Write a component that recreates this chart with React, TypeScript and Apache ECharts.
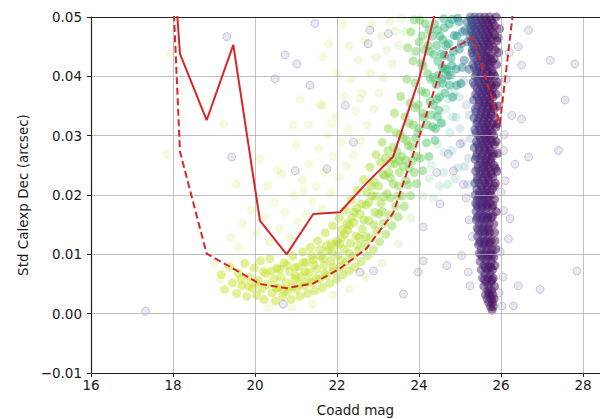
import React, { useEffect, useRef } from "react";
import * as echarts from "echarts";

// Binned trend curves: bin centres (Coadd mag) and their values (arcsec)
const magBins = [17.52, 18.17, 18.82, 19.47, 20.12, 20.77, 21.42, 22.07, 22.72, 23.37, 24.02, 24.67, 25.32, 25.97, 26.62];
const trendSolid = [0.107, 0.0438, 0.0326, 0.0453, 0.0157, 0.01, 0.0168, 0.0171, 0.022, 0.0265, 0.04, 0.059];
const trendDashed = [0.13, 0.0273, 0.0101, 0.0076, 0.005, 0.0043, 0.0051, 0.0076, 0.011, 0.017, 0.0302, 0.0441, 0.0465, 0.032, 0.07];

// Axis ticks
const magTicks = { min: 16, max: 28.9, step: 2 };
const stdTicks = { min: -0.01, max: 0.05, step: 0.01 };

// Dense stellar locus: [coadd mag, std dec]
const bandCore: [number, number][] = [
  [19.18, 0.0066], [19.26, 0.0041], [19.38, 0.0079], [19.45, 0.0052], [19.55, 0.0034], [19.6, 0.0068], [19.68, 0.0047], [19.75, 0.0085],
  [19.8, 0.0029], [19.87, 0.0061], [19.94, 0.0043], [19.98, 0.0077],
  [20.04, 0.0031], [20.08, 0.0056], [20.13, 0.0089], [20.17, 0.0042], [20.22, 0.0024], [20.27, 0.0068], [20.31, 0.0049], [20.36, 0.0093],
  [20.41, 0.0035], [20.46, 0.0058], [20.5, 0.0021], [20.54, 0.0077], [20.58, 0.0044], [20.63, 0.0062], [20.67, 0.0029], [20.71, 0.0086],
  [20.76, 0.0052], [20.8, 0.0037], [20.84, 0.0071], [20.88, 0.0024], [20.92, 0.0097], [20.96, 0.0058],
  [21.01, 0.0041], [21.05, 0.0079], [21.09, 0.0029], [21.12, 0.0063], [21.16, 0.0104], [21.2, 0.0047], [21.24, 0.0086], [21.28, 0.0034],
  [21.31, 0.0069], [21.35, 0.0112], [21.39, 0.0052], [21.42, 0.0091], [21.46, 0.0039], [21.5, 0.0075], [21.53, 0.0123], [21.57, 0.0058],
  [21.6, 0.0097], [21.64, 0.0044], [21.68, 0.0081], [21.71, 0.0136], [21.75, 0.0064], [21.78, 0.0106], [21.82, 0.0051], [21.85, 0.0089],
  [21.89, 0.0148], [21.92, 0.0072], [21.96, 0.0117], [21.99, 0.0058],
  [22.02, 0.0098], [22.05, 0.0161], [22.08, 0.0079], [22.11, 0.0128], [22.14, 0.0066], [22.17, 0.0109], [22.2, 0.0175], [22.23, 0.0087],
  [22.26, 0.0141], [22.29, 0.0072], [22.32, 0.0119], [22.35, 0.0192], [22.38, 0.0096], [22.41, 0.0154], [22.44, 0.0079], [22.47, 0.0131],
  [22.5, 0.0208], [22.53, 0.0106], [22.56, 0.0168], [22.59, 0.0088], [22.62, 0.0143], [22.65, 0.0226], [22.68, 0.0117], [22.71, 0.0183],
  [22.74, 0.0098], [22.77, 0.0157], [22.8, 0.0247], [22.83, 0.0128], [22.86, 0.0199], [22.89, 0.0108], [22.92, 0.0171], [22.95, 0.0268],
  [22.98, 0.0139],
  [23.01, 0.0215], [23.04, 0.0121], [23.07, 0.0186], [23.1, 0.0289], [23.13, 0.0152], [23.16, 0.0233], [23.19, 0.0134], [23.22, 0.0202],
  [23.25, 0.0312], [23.28, 0.0166], [23.31, 0.0252], [23.34, 0.0148], [23.37, 0.0219], [23.4, 0.0338], [23.43, 0.0181], [23.46, 0.0273],
  [23.49, 0.0163], [23.52, 0.0238], [23.55, 0.0366], [23.58, 0.0198], [23.61, 0.0296], [23.64, 0.0181], [23.67, 0.0259], [23.7, 0.0395],
  [23.73, 0.0217], [23.76, 0.0321], [23.79, 0.0199], [23.82, 0.0281], [23.85, 0.0426], [23.88, 0.0238], [23.91, 0.0347], [23.94, 0.0219],
  [23.97, 0.0305],
  [24.0, 0.0458], [24.03, 0.0262], [24.06, 0.0375], [24.09, 0.0241], [24.12, 0.0331], [24.15, 0.0489], [24.18, 0.0288], [24.21, 0.0405],
  [24.24, 0.0265], [24.27, 0.0358], [24.3, 0.0502], [24.33, 0.0315], [24.36, 0.0437], [24.39, 0.0292], [24.42, 0.0386], [24.45, 0.0478],
  [24.48, 0.0343], [24.51, 0.0468], [24.54, 0.0321], [24.57, 0.0415], [24.6, 0.0497], [24.63, 0.0372], [24.66, 0.0452],
  [24.7, 0.0401], [24.74, 0.0488], [24.78, 0.0431], [24.82, 0.0365], [24.86, 0.0469], [24.9, 0.0412], [24.94, 0.0498], [24.98, 0.0446],
  [25.02, 0.0388], [25.06, 0.0475], [25.1, 0.0427], [25.14, 0.0501], [25.18, 0.0458], [25.22, 0.0412], [25.26, 0.0486], [25.3, 0.0445],
  [21.0, 0.0063], [21.22, 0.0071], [21.44, 0.0082], [21.66, 0.0093], [21.88, 0.0104], [22.06, 0.0118], [22.18, 0.0134], [22.3, 0.0149],
  [22.42, 0.0171], [22.54, 0.0128], [22.66, 0.0158], [22.78, 0.0188], [22.9, 0.0222], [23.02, 0.0168], [23.14, 0.0197], [23.26, 0.0238],
  [23.38, 0.0281], [23.5, 0.0215], [23.62, 0.0248], [23.74, 0.0283], [23.86, 0.0318], [23.98, 0.0352], [24.1, 0.0418], [24.22, 0.0452],
  [24.34, 0.0398], [24.46, 0.0425], [24.58, 0.0462], [23.9, 0.0389], [23.78, 0.0355], [23.66, 0.0332], [23.54, 0.0302], [23.42, 0.0253],
  [23.3, 0.0229], [23.18, 0.0262], [24.05, 0.0422], [24.25, 0.0478], [24.4, 0.0505], [23.95, 0.0265], [24.2, 0.0318], [24.44, 0.0362],
  [24.62, 0.0412],
  [23.72, 0.0448], [23.8, 0.0475], [23.88, 0.0495], [23.92, 0.0442], [24.02, 0.0495], [24.08, 0.0468], [24.13, 0.0445], [24.18, 0.0508],
  [24.26, 0.0442], [24.32, 0.0468], [24.38, 0.0488], [24.43, 0.0452], [24.5, 0.0503], [24.55, 0.0438], [24.62, 0.0482], [24.68, 0.0505],
  [24.72, 0.0455], [24.8, 0.0496], [24.84, 0.0442], [24.88, 0.0506], [24.92, 0.0468], [24.97, 0.0492], [25.03, 0.0455], [25.08, 0.0506],
  [25.12, 0.0478], [25.17, 0.0492], [25.24, 0.0468], [25.28, 0.0505], [24.76, 0.0402], [24.92, 0.0385], [25.05, 0.0415], [24.58, 0.0388],
  [24.48, 0.0402], [24.35, 0.0352], [24.28, 0.0395], [24.16, 0.0372], [24.08, 0.0338], [24.0, 0.0312], [23.92, 0.0295], [23.84, 0.0258],
  [23.76, 0.0245], [23.68, 0.0225], [23.58, 0.0265], [23.48, 0.0198], [23.44, 0.0305], [23.36, 0.0262], [23.24, 0.0275], [23.12, 0.0235],
  [23.06, 0.0255], [22.94, 0.0198], [22.84, 0.0215], [22.72, 0.0205], [22.6, 0.0185], [22.48, 0.0178], [22.36, 0.0162], [22.24, 0.0152],
  [22.12, 0.0142], [22.0, 0.0122], [21.86, 0.0118], [21.74, 0.0115], [21.58, 0.0108], [21.38, 0.0098], [21.18, 0.0087], [20.98, 0.0078],
  [20.78, 0.0082], [20.6, 0.0075], [20.4, 0.0072], [20.2, 0.0071], [20.02, 0.0052], [19.84, 0.0046], [19.66, 0.0058], [20.52, 0.0043],
  [20.7, 0.004], [20.9, 0.0045], [21.1, 0.005], [21.3, 0.0055], [21.5, 0.006], [21.7, 0.0068], [21.9, 0.0078], [22.1, 0.009],
  [22.3, 0.0102], [22.5, 0.0115], [22.7, 0.013], [22.9, 0.015], [23.1, 0.0172], [23.3, 0.0195], [23.5, 0.0258], [23.7, 0.0292],
  [24.3, 0.0335], [24.4, 0.0312], [24.5, 0.0365], [24.55, 0.0395], [24.45, 0.0332], [24.62, 0.0435], [24.68, 0.0412], [24.75, 0.0385],
  [24.8, 0.0418],
];

// Sparser sources around the locus
const bandHaze: [number, number][] = [
  [20.05, 0.0135], [20.2, 0.0162], [20.35, 0.0121], [20.48, 0.0188], [20.6, 0.0143], [20.72, 0.0171], [20.85, 0.0128], [20.95, 0.0199],
  [21.05, 0.0155], [21.15, 0.0226], [21.25, 0.0168], [21.32, 0.0252], [21.4, 0.0189], [21.48, 0.0215], [21.55, 0.0278], [21.62, 0.0176],
  [21.7, 0.0238], [21.78, 0.0301], [21.85, 0.0204], [21.9, 0.0265], [21.98, 0.0332], [22.05, 0.0231], [22.1, 0.0289], [22.18, 0.0366],
  [22.22, 0.0249], [22.28, 0.0312], [22.35, 0.0395], [22.4, 0.0268], [22.45, 0.0341], [22.52, 0.0428], [22.58, 0.0291], [22.62, 0.0372],
  [22.68, 0.0461], [22.74, 0.0318], [22.8, 0.0405], [22.86, 0.0488], [22.9, 0.0345], [22.95, 0.0432], [23.02, 0.0372], [23.08, 0.0468],
  [23.12, 0.0398], [23.2, 0.0445], [23.28, 0.0493], [23.35, 0.0421], [23.42, 0.0476], [23.5, 0.0452], [23.58, 0.0498], [23.65, 0.0475],
  [19.4, 0.0128], [19.7, 0.0152], [19.9, 0.0175], [19.6, 0.0112], [20.3, 0.0215], [20.55, 0.0242], [21.0, 0.0285], [21.3, 0.0318],
  [21.6, 0.0352], [22.0, 0.0405], [22.3, 0.0451], [21.8, 0.0455], [22.15, 0.0488],
  [19.0, 0.0085], [19.15, 0.0058], [20.3, 0.0009], [20.9, 0.0011], [21.4, 0.0016], [21.9, 0.0031], [22.3, 0.0042], [22.7, 0.0062],
  [23.1, 0.0085], [23.5, 0.0118], [23.8, 0.0162], [24.1, 0.0198],
  [24.6, 0.0272], [24.75, 0.0305], [24.9, 0.0331], [25.05, 0.0288], [25.15, 0.0352], [24.95, 0.0246], [25.2, 0.0262], [24.85, 0.0372],
  [25.1, 0.0392], [24.7, 0.0218],
  [24.3, 0.025], [24.45, 0.0285], [24.55, 0.0322], [24.65, 0.0345], [24.8, 0.0275], [24.88, 0.0228], [25.0, 0.0312], [25.12, 0.0248],
  [25.22, 0.0335], [24.5, 0.0215], [24.35, 0.0195], [24.72, 0.0362], [24.98, 0.0365], [25.25, 0.0295], [24.6, 0.0238], [24.25, 0.0228],
  [24.82, 0.0332], [25.18, 0.0218],
  [17.93, 0.0438], [17.85, 0.0269], [19.55, 0.0218], [19.23, 0.032], [20.12, 0.0261], [21.67, 0.0433], [21.1, 0.0362], [20.93, 0.0317],
  [20.65, 0.0235], [21.18, 0.0207], [21.87, 0.032], [21.63, 0.0351], [22.56, 0.0362],
];

// Faint sources near the detection limit
const faintColumn: [number, number][] = [
  [25.78, 0.0006], [25.74, 0.0012], [25.81, 0.0012], [25.7, 0.0019], [25.79, 0.0019], [25.66, 0.0025], [25.76, 0.0025], [25.83, 0.0025],
  [25.62, 0.0032], [25.72, 0.0032], [25.8, 0.0032], [25.68, 0.0039], [25.77, 0.0039], [25.58, 0.0046], [25.7, 0.0046], [25.84, 0.0046],
  [25.64, 0.0053], [25.75, 0.0053], [25.55, 0.006], [25.69, 0.006], [25.81, 0.006], [25.61, 0.0067], [25.73, 0.0067], [25.52, 0.0074],
  [25.66, 0.0074], [25.79, 0.0074], [25.58, 0.0081], [25.71, 0.0081], [25.85, 0.0081], [25.49, 0.0088], [25.63, 0.0088], [25.76, 0.0088],
  [25.55, 0.0095], [25.68, 0.0095], [25.82, 0.0095], [25.47, 0.0102], [25.6, 0.0102], [25.73, 0.0102], [25.52, 0.0109], [25.65, 0.0109],
  [25.78, 0.0109], [25.87, 0.0109], [25.45, 0.0116], [25.58, 0.0116], [25.7, 0.0116], [25.5, 0.0123], [25.63, 0.0123], [25.76, 0.0123],
  [25.85, 0.0123], [25.43, 0.013], [25.56, 0.013], [25.68, 0.013], [25.49, 0.0137], [25.61, 0.0137], [25.73, 0.0137], [25.84, 0.0137],
  [25.42, 0.0144], [25.54, 0.0144], [25.66, 0.0144], [25.47, 0.0151], [25.59, 0.0151], [25.71, 0.0151], [25.82, 0.0151], [25.4, 0.0158],
  [25.52, 0.0158], [25.64, 0.0158], [25.45, 0.0165], [25.57, 0.0165], [25.69, 0.0165], [25.8, 0.0165], [25.39, 0.0172], [25.5, 0.0172],
  [25.62, 0.0172], [25.88, 0.0172], [25.44, 0.0179], [25.55, 0.0179], [25.67, 0.0179], [25.78, 0.0179], [25.38, 0.0186], [25.49, 0.0186],
  [25.61, 0.0186], [25.72, 0.0186], [25.43, 0.0193], [25.54, 0.0193], [25.66, 0.0193], [25.84, 0.0193], [25.37, 0.02], [25.48, 0.02],
  [25.6, 0.02], [25.76, 0.02],
  [25.7, 0.0035], [25.6, 0.0057], [25.78, 0.0057], [25.62, 0.0078], [25.75, 0.0078], [25.51, 0.0099], [25.64, 0.0099], [25.78, 0.0099],
  [25.47, 0.012], [25.59, 0.012], [25.72, 0.012], [25.45, 0.0141], [25.58, 0.0141], [25.7, 0.0141], [25.42, 0.0162], [25.55, 0.0162],
  [25.67, 0.0162], [25.76, 0.0162], [25.41, 0.0183], [25.53, 0.0183], [25.65, 0.0183], [25.8, 0.0183], [25.46, 0.0197], [25.58, 0.0197],
  [25.7, 0.0197],
  [25.41, 0.021], [25.53, 0.021], [25.65, 0.021], [25.79, 0.021],
  [25.36, 0.022], [25.47, 0.022], [25.6, 0.022], [25.71, 0.022], [25.86, 0.022],
  [25.43, 0.023], [25.56, 0.023], [25.68, 0.023], [25.8, 0.023],
  [25.38, 0.024], [25.5, 0.024], [25.62, 0.024], [25.74, 0.024], [25.9, 0.024],
  [25.44, 0.025], [25.57, 0.025], [25.66, 0.025], [25.83, 0.025],
  [25.37, 0.026], [25.49, 0.026], [25.61, 0.026], [25.73, 0.026],
  [25.42, 0.027], [25.55, 0.027], [25.69, 0.027], [25.81, 0.027], [25.92, 0.027],
  [25.35, 0.028], [25.47, 0.028], [25.59, 0.028], [25.7, 0.028],
  [25.4, 0.029], [25.52, 0.029], [25.64, 0.029], [25.77, 0.029], [25.88, 0.029],
  [25.45, 0.03], [25.58, 0.03], [25.67, 0.03], [25.82, 0.03],
  [25.36, 0.031], [25.49, 0.031], [25.61, 0.031], [25.73, 0.031],
  [25.41, 0.032], [25.54, 0.032], [25.66, 0.032], [25.79, 0.032], [25.9, 0.032],
  [25.34, 0.033], [25.46, 0.033], [25.58, 0.033], [25.7, 0.033], [25.85, 0.033],
  [25.39, 0.034], [25.51, 0.034], [25.63, 0.034], [25.75, 0.034],
  [25.44, 0.035], [25.56, 0.035], [25.68, 0.035], [25.81, 0.035], [25.93, 0.035],
  [25.33, 0.036], [25.47, 0.036], [25.59, 0.036], [25.71, 0.036],
  [25.38, 0.037], [25.52, 0.037], [25.64, 0.037], [25.77, 0.037], [25.88, 0.037],
  [25.42, 0.038], [25.55, 0.038], [25.67, 0.038], [25.8, 0.038],
  [25.32, 0.039], [25.46, 0.039], [25.6, 0.039], [25.72, 0.039], [25.91, 0.039],
  [25.37, 0.04], [25.5, 0.04], [25.62, 0.04], [25.75, 0.04], [25.85, 0.04],
  [25.41, 0.041], [25.54, 0.041], [25.66, 0.041], [25.78, 0.041],
  [25.31, 0.042], [25.45, 0.042], [25.58, 0.042], [25.7, 0.042], [25.89, 0.042],
  [25.36, 0.043], [25.49, 0.043], [25.61, 0.043], [25.73, 0.043], [25.83, 0.043],
  [25.29, 0.044], [25.42, 0.044], [25.55, 0.044], [25.67, 0.044], [25.94, 0.044],
  [25.34, 0.045], [25.47, 0.045], [25.59, 0.045], [25.71, 0.045], [25.8, 0.045],
  [25.27, 0.046], [25.39, 0.046], [25.52, 0.046], [25.64, 0.046], [25.76, 0.046], [25.9, 0.046],
  [25.32, 0.047], [25.45, 0.047], [25.57, 0.047], [25.69, 0.047], [25.84, 0.047],
  [25.26, 0.048], [25.37, 0.048], [25.5, 0.048], [25.62, 0.048], [25.74, 0.048], [25.96, 0.048],
  [25.3, 0.049], [25.43, 0.049], [25.55, 0.049], [25.67, 0.049], [25.79, 0.049],
  [25.25, 0.05], [25.36, 0.05], [25.48, 0.05], [25.6, 0.05], [25.72, 0.05], [25.88, 0.05],
  [25.3, 0.051], [25.42, 0.051], [25.54, 0.051], [25.66, 0.051], [25.8, 0.051],
  [25.47, 0.0205], [25.6, 0.0205], [25.73, 0.0205], [25.52, 0.0215], [25.66, 0.0215], [25.84, 0.0215],
  [25.42, 0.0225], [25.55, 0.0225], [25.69, 0.0225], [25.49, 0.0235], [25.62, 0.0235], [25.76, 0.0235],
  [25.44, 0.0245], [25.57, 0.0245], [25.7, 0.0245], [25.86, 0.0245], [25.5, 0.0255], [25.63, 0.0255], [25.75, 0.0255],
  [25.4, 0.0265], [25.53, 0.0265], [25.66, 0.0265], [25.79, 0.0265], [25.48, 0.0275], [25.61, 0.0275], [25.74, 0.0275],
  [25.43, 0.0285], [25.56, 0.0285], [25.68, 0.0285], [25.84, 0.0285], [25.5, 0.0295], [25.62, 0.0295], [25.73, 0.0295],
  [25.39, 0.0305], [25.53, 0.0305], [25.65, 0.0305], [25.78, 0.0305], [25.47, 0.0315], [25.6, 0.0315], [25.71, 0.0315], [25.88, 0.0315],
  [25.43, 0.0325], [25.57, 0.0325], [25.69, 0.0325], [25.5, 0.0335], [25.63, 0.0335], [25.76, 0.0335],
  [25.37, 0.0345], [25.55, 0.0345], [25.67, 0.0345], [25.83, 0.0345], [25.48, 0.0355], [25.61, 0.0355], [25.73, 0.0355],
  [25.42, 0.0365], [25.54, 0.0365], [25.66, 0.0365], [25.8, 0.0365], [25.46, 0.0375], [25.59, 0.0375], [25.71, 0.0375],
  [25.36, 0.0385], [25.51, 0.0385], [25.64, 0.0385], [25.76, 0.0385], [25.87, 0.0385], [25.44, 0.0395], [25.57, 0.0395], [25.69, 0.0395],
  [25.4, 0.0405], [25.52, 0.0405], [25.65, 0.0405], [25.81, 0.0405], [25.35, 0.0415], [25.47, 0.0415], [25.6, 0.0415], [25.72, 0.0415],
  [25.43, 0.0425], [25.55, 0.0425], [25.68, 0.0425], [25.78, 0.0425], [25.32, 0.0435], [25.5, 0.0435], [25.63, 0.0435], [25.75, 0.0435],
  [25.38, 0.0445], [25.52, 0.0445], [25.64, 0.0445], [25.86, 0.0445], [25.3, 0.0455], [25.44, 0.0455], [25.57, 0.0455], [25.69, 0.0455],
  [25.35, 0.0465], [25.48, 0.0465], [25.61, 0.0465], [25.73, 0.0465], [25.93, 0.0465],
  [25.28, 0.0475], [25.4, 0.0475], [25.53, 0.0475], [25.66, 0.0475], [25.79, 0.0475],
  [25.33, 0.0485], [25.46, 0.0485], [25.58, 0.0485], [25.7, 0.0485], [25.85, 0.0485],
  [25.27, 0.0495], [25.39, 0.0495], [25.52, 0.0495], [25.64, 0.0495], [25.76, 0.0495],
  [25.32, 0.0505], [25.45, 0.0505], [25.57, 0.0505], [25.69, 0.0505], [25.83, 0.0505],
];

// Isolated low-S/N outliers
const outliers: [number, number][] = [
  [17.33, 0.0004], [19.31, 0.0467], [19.43, 0.0264], [21.46, 0.0489], [20.73, 0.0436], [21.02, 0.0421], [20.49, 0.0396], [21.34, 0.0385],
  [22.2, 0.0351], [22.76, 0.0455], [23.25, 0.0472], [22.8, 0.0478], [21.75, 0.0244], [20.98, 0.0241], [22.4, 0.0289], [20.69, 0.0016],
  [23.62, 0.0033], [23.98, 0.007], [24.1, 0.0089], [24.1, 0.0146], [22.89, 0.0072], [22.56, 0.007], [24.51, 0.0185], [24.68, 0.0081],
  [25.04, 0.0098], [25.2, 0.007], [25.24, 0.0047], [26.22, 0.016], [26.18, 0.0126], [26.06, 0.0174], [26.42, 0.0047], [26.95, 0.0041],
  [27.85, 0.0072], [26.3, 0.0013], [26.02, 0.0013], [26.67, 0.0478], [27.2, 0.0427], [27.8, 0.0421], [26.5, 0.0419], [26.42, 0.045],
  [27.56, 0.036], [26.26, 0.0334], [26.5, 0.0328], [27.4, 0.0275], [26.67, 0.0264], [26.34, 0.0252], [26.06, 0.0275], [24.84, 0.0241],
  [24.43, 0.0238], [25.08, 0.0218], [26.1, 0.0224], [24.71, 0.0269], [25.0, 0.0286], [26.0, 0.0205], [25.98, 0.0104], [26.05, 0.0062],
  [25.95, 0.0035], [25.3, 0.013], [25.22, 0.0158], [26.12, 0.0395], [26.2, 0.044], [26.08, 0.0302], [25.15, 0.0195],
];

// viridis-like colouring of the points by magnitude
const colorStops: [number, string][] = [
  [20.0, "#c8e020"], [22.5, "#b5de2b"], [23.0, "#a0da39"], [23.5, "#86d549"], [24.0, "#6ccd5a"], [24.4, "#40bd72"],
  [24.7, "#25ab82"], [24.95, "#1f958b"], [25.15, "#2c728e"], [25.3, "#3e4a89"], [25.45, "#472f7d"], [25.6, "#481f70"], [25.9, "#440154"],
];

function hexToRgb(h: string) {
  const n = parseInt(h.slice(1), 16);
  return [(n >> 16) & 255, (n >> 8) & 255, n & 255];
}

function magColor(m: number) {
  if (m <= colorStops[0][0]) return colorStops[0][1];
  for (let i = 1; i < colorStops.length; i++) {
    const [m1, c1] = colorStops[i];
    if (m <= m1) {
      const [m0, c0] = colorStops[i - 1];
      const t = (m - m0) / (m1 - m0);
      const a = hexToRgb(c0);
      const b = hexToRgb(c1);
      const rgb = a.map((v, k) => Math.round(v + (b[k] - v) * t));
      return `rgb(${rgb[0]},${rgb[1]},${rgb[2]})`;
    }
  }
  return colorStops[colorStops.length - 1][1];
}

const FONT = "DejaVu Sans";
const RED = "#d62728";

function coloured(points: [number, number][]) {
  return points.map(([m, s]) => ({ value: [m, s], itemStyle: { color: magColor(m) } }));
}

function fmtStd(v: number) {
  if (Math.abs(v) < 1e-9) return "0.00";
  return v < 0 ? "\u2212" + Math.abs(v).toFixed(2) : v.toFixed(2);
}

export default function App() {
  const ref = useRef<HTMLDivElement>(null);

  useEffect(() => {
    if (!ref.current) return;
    const chart = echarts.init(ref.current, undefined, { renderer: "svg" });
    const solid = trendSolid.map((v, i) => [magBins[i], v]);
    const dashed = trendDashed.map((v, i) => [magBins[i], v]);

    chart.setOption({
      animation: false,
      backgroundColor: "#ffffff",
      textStyle: { fontFamily: FONT },
      grid: { left: 91, right: -20, top: 17, bottom: 46, containLabel: false, outerBoundsMode: "none" },
      xAxis: [
        {
          type: "value",
          z: 3,
          min: magTicks.min,
          max: magTicks.max,
          interval: magTicks.step,
          name: "Coadd mag",
          nameLocation: "middle",
          nameGap: 30,
          nameTextStyle: { fontFamily: FONT, fontSize: 13.5, color: "#1a1a1a" },
          axisLine: { show: true, onZero: false, lineStyle: { color: "#222", width: 1.2 } },
          axisTick: { show: true, length: 4, lineStyle: { color: "#222", width: 1 } },
          axisLabel: {
            fontFamily: FONT,
            fontSize: 13.5,
            color: "#1a1a1a",
            margin: 5,
            showMaxLabel: false,
            formatter: (v: number) => String(Math.round(v)),
          },
          splitLine: { show: true, lineStyle: { color: "#b0b0b0", width: 0.8 } },
        },
        {
          type: "value",
          position: "top",
          z: 3,
          min: magTicks.min,
          max: magTicks.max,
          axisLine: { show: true, onZero: false, lineStyle: { color: "#222", width: 1.2 } },
          axisTick: { show: false },
          axisLabel: { show: false },
          splitLine: { show: false },
        },
      ],
      yAxis: {
        type: "value",
        z: 3,
        min: stdTicks.min,
        max: stdTicks.max,
        interval: stdTicks.step,
        name: "Std Calexp Dec (arcsec)",
        nameLocation: "middle",
        nameRotate: 90,
        nameGap: 58,
        nameTextStyle: { fontFamily: FONT, fontSize: 13.5, color: "#1a1a1a" },
        axisLine: { show: true, onZero: false, lineStyle: { color: "#222", width: 1.2 } },
        axisTick: { show: true, length: 4, lineStyle: { color: "#222", width: 1 } },
        axisLabel: { fontFamily: FONT, fontSize: 13.5, color: "#1a1a1a", margin: 9, formatter: fmtStd },
        splitLine: { show: true, lineStyle: { color: "#b0b0b0", width: 0.8 } },
      },
      series: [
        {
          type: "scatter",
          data: coloured(bandHaze),
          symbolSize: 9,
          itemStyle: { opacity: 0.16 },
          silent: true,
          z: 2,
        },
        {
          type: "scatter",
          data: coloured(bandCore),
          symbolSize: 9,
          itemStyle: { opacity: 0.48 },
          silent: true,
          z: 2,
        },
        {
          type: "scatter",
          data: coloured(faintColumn),
          symbolSize: 9,
          itemStyle: { opacity: 0.5 },
          silent: true,
          z: 2,
        },
        {
          type: "scatter",
          data: outliers,
          symbolSize: 8,
          itemStyle: {
            color: "rgba(72,60,130,0.15)",
            borderColor: "rgba(72,60,130,0.3)",
            borderWidth: 1,
          },
          silent: true,
          z: 2,
        },
        {
          type: "line",
          data: solid,
          showSymbol: false,
          symbol: "none",
          clip: true,
          lineStyle: { color: RED, width: 2 },
          silent: true,
          z: 5,
        },
        {
          type: "line",
          data: dashed,
          showSymbol: false,
          symbol: "none",
          clip: true,
          lineStyle: { color: RED, width: 2, type: [7, 3.5] },
          silent: true,
          z: 5,
        },
      ],
    });

    return () => chart.dispose();
  }, []);

  return (
    <div
      ref={ref}
      style={{ position: "fixed", left: 0, top: 0, width: 600, height: 419, background: "#fff" }}
    />
  );
}
